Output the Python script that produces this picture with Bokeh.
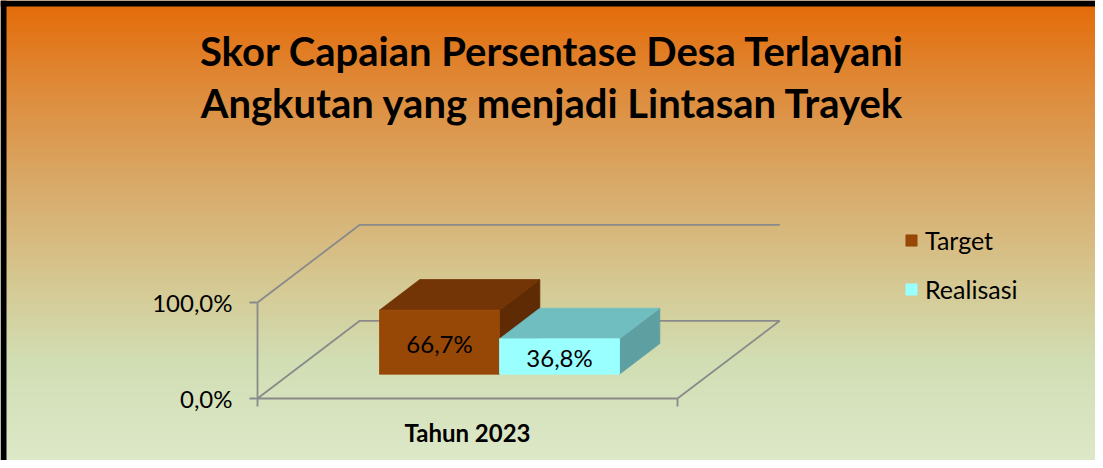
import numpy as np
from bokeh.plotting import figure
from bokeh.models import Range1d, Legend, LegendItem
from bokeh.core.properties import value
from bokeh.embed import file_html
from bokeh.resources import INLINE

# ---------------- data ----------------
title_lines = ["Skor Capaian Persentase Desa Terlayani",
               "Angkutan yang menjadi Lintasan Trayek"]
categories = ["Tahun 2023"]
series = ["Target", "Realisasi"]
values = [66.7, 36.8]
value_labels = ["66,7%", "36,8%"]
tick_values = [0, 100]
tick_labels = ["0,0%", "100,0%"]

# ---------------- styles / layout ----------------
front_colors = ["#974706", "#99FFFF"]
top_colors = ["#733506", "#70BEC0"]
side_colors = ["#5E2B04", "#5EA0A2"]
grid_color = "#8A8A8A"
FONT = "Lato"

W, H = 1095, 460
X0_PX, XSCALE = 257.0, 420.0      # canvas x of front-left corner, px per category width
Y0_PX, YSCALE = 62.0, 0.96        # canvas y (from bottom) of 0 %, px per percent
DX, DY = 102.3 / XSCALE, 77.7 / YSCALE   # depth offset of the 3-D floor
D0, D1 = 0.313, 0.707                    # bar depth span (fraction of floor depth)
BAR_W = 120.0 / XSCALE

x_start, x_end = -X0_PX / XSCALE, (W - X0_PX) / XSCALE
y_start, y_end = -Y0_PX / YSCALE, (H - Y0_PX) / YSCALE


def px_x(px):
    return (px - X0_PX) / XSCALE


def px_y(px):
    return (px - Y0_PX) / YSCALE


p = figure(width=W, height=H, x_range=Range1d(x_start, x_end),
           y_range=Range1d(y_start, y_end), output_backend="svg",
           toolbar_location=None, x_axis_location=None, y_axis_location=None,
           min_border=0)
p.grid.visible = False
p.outline_line_color = None
p.background_fill_color = None
p.border_fill_color = None

# ---------------- gradient background ----------------
stops_y = [14, 100, 200, 300, 370, 468]
stops_rgb = np.array([(228, 108, 10), (222, 140, 60), (216, 172, 108),
                      (213, 203, 150), (209, 222, 180), (221, 232, 200)], float)
img = np.zeros((H, 1), dtype=np.uint32)
view = img.view(dtype=np.uint8).reshape((H, 1, 4))
yy = 468 - np.arange(H) - 0.5
for c in range(3):
    view[:, 0, c] = np.interp(yy, stops_y, stops_rgb[:, c]).round().astype(np.uint8)
view[:, 0, 3] = 255
p.image_rgba(image=[img], x=x_start, y=y_start, dw=x_end - x_start, dh=y_end - y_start)

# border (top & left)
p.quad(left=[x_start, x_start], right=[x_end, px_x(6)],
       bottom=[px_y(H - 6), y_start], top=[y_end, y_end],
       fill_color="black", line_color=None)

# ---------------- 3-D frame ----------------
ymax = tick_values[-1]
p.line([0, 0], [0, ymax], line_color=grid_color, line_width=1.8)
p.line([0, DX, 1 + DX], [ymax, ymax + DY, ymax + DY], line_color=grid_color, line_width=1.8)
p.line([0, DX, 1 + DX, 1, 0], [0, DY, DY, 0, 0], line_color=grid_color, line_width=1.8)
tick_len_x = 8 / XSCALE
p.segment(x0=[-tick_len_x] * len(tick_values), y0=tick_values,
          x1=[0] * len(tick_values), y1=tick_values, line_color=grid_color, line_width=1.8)
tick_len_y = 8 / YSCALE
p.segment(x0=[0, 1], y0=[0, 0], x1=[0, 1], y1=[-tick_len_y, -tick_len_y],
          line_color=grid_color, line_width=1.8)

# tick labels
p.text(x=[0] * len(tick_values), y=tick_values, text=tick_labels, x_offset=-25,
       text_align="right", text_baseline="middle", text_font=value(FONT),
       text_font_size="24px", text_color="black")

# category label
p.text(x=[0.5], y=[0], text=categories, y_offset=34, text_align="center",
       text_baseline="middle", text_font=value(FONT), text_font_style="bold",
       text_font_size="24px", text_color="black")

# ---------------- bars ----------------
front_renderers = []
n = len(series)
for i, (name, v) in enumerate(zip(series, values)):
    xl = 0.5 - BAR_W * n / 2 + i * BAR_W
    xr = xl + BAR_W
    fx0, fx1 = xl + D0 * DX, xr + D0 * DX
    bx0, bx1 = xl + D1 * DX, xr + D1 * DX
    fy, by = D0 * DY, D1 * DY
    p.patch([fx1, bx1, bx1, fx1], [fy, by, v + by, v + fy],
            fill_color=side_colors[i], line_color=side_colors[i], line_width=0.8)
    p.patch([fx0, fx1, bx1, bx0], [v + fy, v + fy, v + by, v + by],
            fill_color=top_colors[i], line_color=top_colors[i], line_width=0.8)
    r = p.quad(left=[fx0], right=[fx1], bottom=[fy], top=[v + fy],
               fill_color=front_colors[i], line_color=front_colors[i], line_width=0.8)
    front_renderers.append(r)
    p.text(x=[(fx0 + fx1) / 2], y=[v / 2 + fy], text=[value_labels[i]], y_offset=1,
           text_align="center", text_baseline="middle", text_font=value(FONT),
           text_font_size="24px", text_color="black")

# ---------------- title ----------------
for k, line in enumerate(title_lines):
    p.text(x=[px_x(552)], y=[px_y(410 - 52.5 * k)], text=[line], text_align="center",
           text_baseline="middle", text_font=value(FONT), text_font_style="bold",
           text_font_size="40px", text_color="black")

# ---------------- legend ----------------
legend = Legend(items=[LegendItem(label=s, renderers=[r]) for s, r in zip(series, front_renderers)],
                location=(904, 156), orientation="vertical", glyph_width=14, glyph_height=14,
                label_standoff=7, spacing=19, padding=0, margin=0,
                border_line_color=None, background_fill_alpha=0,
                label_text_font=FONT, label_text_font_size="25px",
                label_text_color="black", label_text_baseline="middle")
p.add_layout(legend)

open("out.html", "w").write(file_html(p, INLINE))
